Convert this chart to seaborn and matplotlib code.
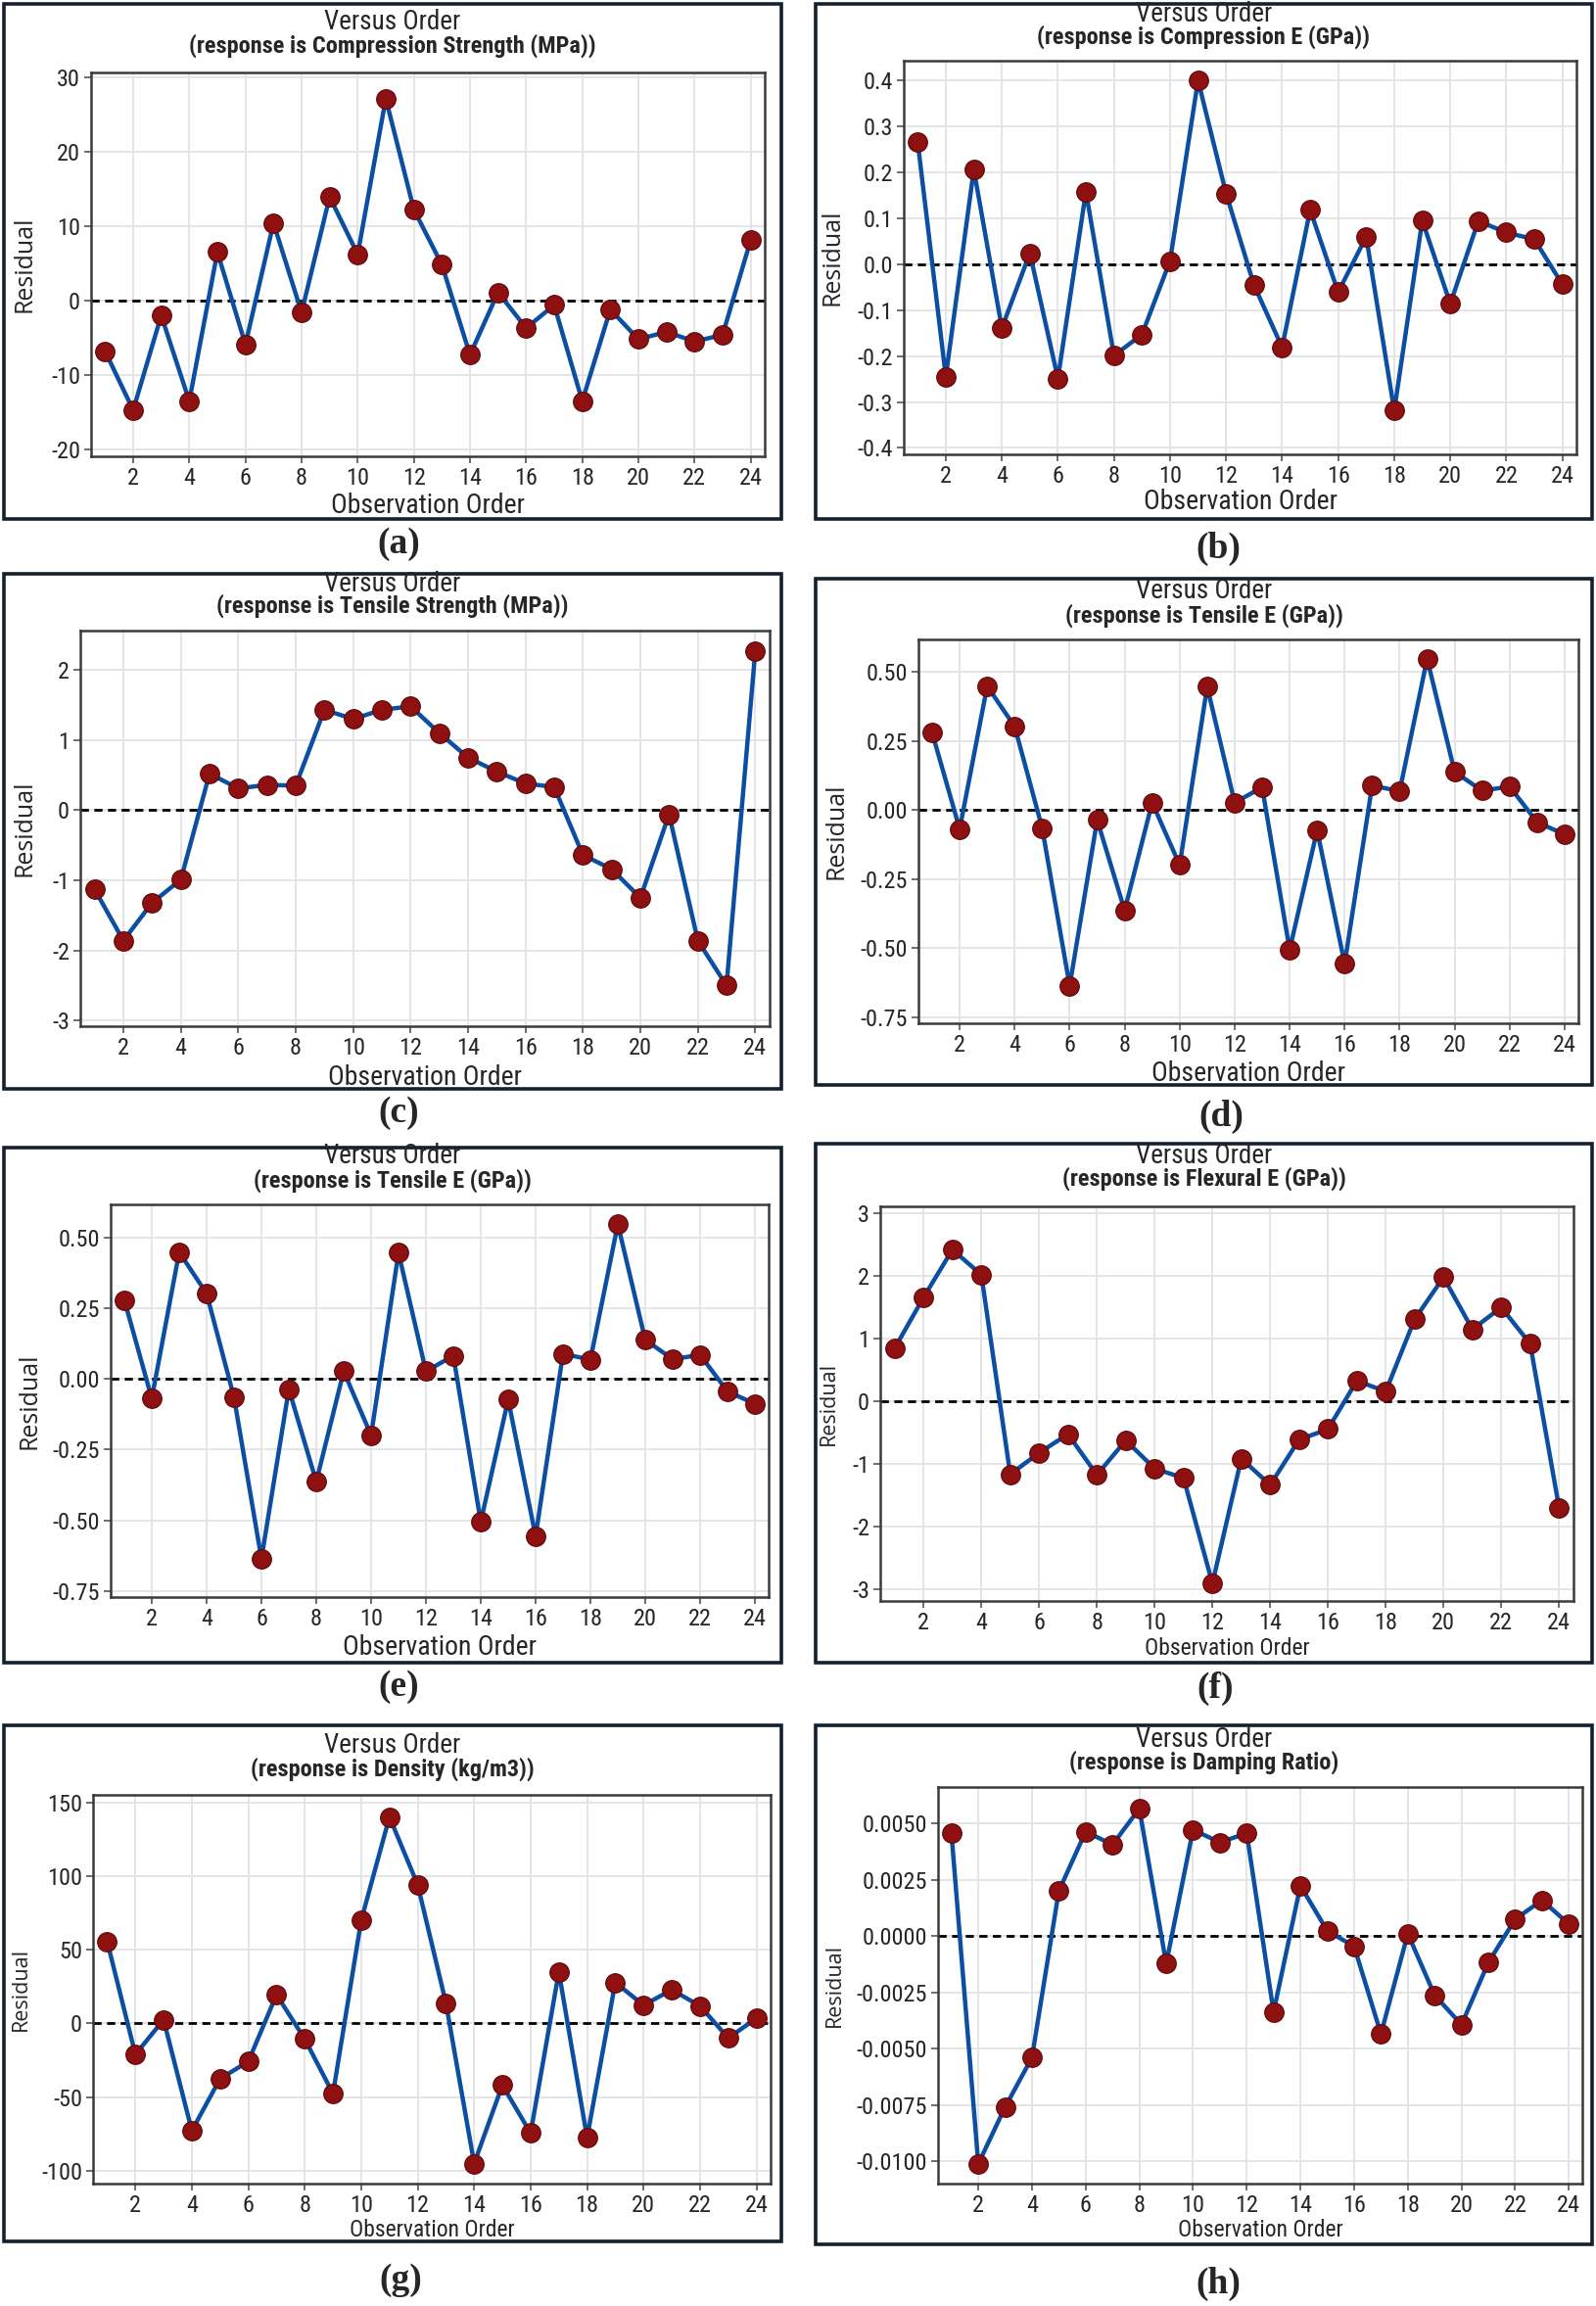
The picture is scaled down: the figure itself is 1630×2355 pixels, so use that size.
import numpy as np
import pandas as pd
import matplotlib
matplotlib.use("Agg")
import matplotlib.pyplot as plt
import seaborn as sns
from matplotlib.patches import Rectangle
from matplotlib.ticker import FormatStrFormatter

order = list(range(1, 25))

comp_strength = [-6.8, -14.7, -2.0, -13.5, 6.5, -5.9, 10.4, -1.6, 13.9, 6.2, 27.1, 12.2,
                 4.8, -7.3, 1.1, -3.7, -0.6, -13.5, -1.2, -5.2, -4.2, -5.5, -4.6, 8.1]
comp_e = [0.265, -0.245, 0.206, -0.139, 0.024, -0.249, 0.158, -0.199, -0.153, 0.007, 0.400, 0.154,
          -0.046, -0.181, 0.118, -0.061, 0.060, -0.319, 0.095, -0.086, 0.094, 0.069, 0.054, -0.044]
tens_strength = [-1.13, -1.86, -1.32, -0.99, 0.52, 0.31, 0.36, 0.35, 1.43, 1.30, 1.43, 1.48,
                 1.10, 0.75, 0.55, 0.38, 0.33, -0.64, -0.84, -1.25, -0.06, -1.86, -2.50, 2.26]
tens_e = [0.279, -0.069, 0.448, 0.302, -0.065, -0.636, -0.036, -0.363, 0.027, -0.199, 0.446, 0.027,
          0.082, -0.505, -0.073, -0.556, 0.089, 0.068, 0.547, 0.138, 0.070, 0.085, -0.044, -0.088]
flex_e = [0.85, 1.66, 2.42, 2.02, -1.16, -0.82, -0.52, -1.17, -0.62, -1.07, -1.22, -2.90,
          -0.91, -1.33, -0.61, -0.44, 0.33, 0.16, 1.31, 1.98, 1.15, 1.50, 0.92, -1.69]
density = [55.7, -21, 2.5, -72.7, -37.5, -25.8, 19.5, -10.6, -47.6, 70, 140, 94,
           13.9, -95, -41.8, -74.4, 35, -77.5, 27.8, 12.4, 22.8, 11.9, -9.9, 3.5]
damping = [0.00457, -0.01012, -0.0076, -0.0054, 0.0020, 0.00464, 0.00406, 0.00566, -0.00123,
           0.00472, 0.00416, 0.00457, -0.00338, 0.00224, 0.00023, -0.00046, -0.00435, 0.0001,
           -0.00263, -0.00394, -0.00118, 0.00075, 0.00159, 0.00053]

subtitles = ["(response is Compression Strength (MPa))",
             "(response is Compression E (GPa))",
             "(response is Tensile Strength (MPa))",
             "(response is Tensile E (GPa))",
             "(response is Tensile E (GPa))",
             "(response is Flexural E (GPa))",
             "(response is Density (kg/m3))",
             "(response is Damping Ratio)"]
letters = ["(a)", "(b)", "(c)", "(d)", "(e)", "(f)", "(g)", "(h)"]
series = [comp_strength, comp_e, tens_strength, tens_e, tens_e, flex_e, density, damping]
yticks = [[-20, -10, 0, 10, 20, 30],
          [-0.4, -0.3, -0.2, -0.1, 0.0, 0.1, 0.2, 0.3, 0.4],
          [-3, -2, -1, 0, 1, 2],
          [-0.75, -0.5, -0.25, 0.0, 0.25, 0.5],
          [-0.75, -0.5, -0.25, 0.0, 0.25, 0.5],
          [-3, -2, -1, 0, 1, 2, 3],
          [-100, -50, 0, 50, 100, 150],
          [-0.01, -0.0075, -0.005, -0.0025, 0.0, 0.0025, 0.005]]
yfmt = ["%d", "%.1f", "%d", "%.2f", "%.2f", "%d", "%d", "%.4f"]
ylims = [(-20.9, 30.6), (-0.414, 0.443), (-3.08, 2.56), (-0.771, 0.617),
         (-0.771, 0.617), (-3.18, 3.11), (-108.6, 155), (-0.0110, 0.00662)]

# layout in pixels (y from top): box, axes, title y, subtitle y, xlabel y, ylabel x, letter (x, y)
W, H = 1631, 2355
layout = [
    dict(box=(4, 4, 798, 530), ax=(93, 74, 781, 466), t=23, st=47, xl=517, yl=25, lab=(407, 556), big=True),
    dict(box=(833, 4, 1626, 530), ax=(923, 62, 1610, 464), t=14, st=38, xl=513, yl=850, lab=(1244, 560), big=True),
    dict(box=(4, 586, 798, 1112), ax=(82, 644, 786, 1048), t=597, st=619, xl=1101, yl=25, lab=(407, 1136), big=True),
    dict(box=(833, 591, 1626, 1108), ax=(938, 653, 1612, 1045), t=604, st=629, xl=1096, yl=854, lab=(1247, 1140), big=True),
    dict(box=(4, 1172, 798, 1698), ax=(113, 1230, 785, 1631), t=1181, st=1206, xl=1683, yl=30, lab=(407, 1722), big=True),
    dict(box=(833, 1168, 1626, 1698), ax=(899, 1232, 1607, 1635), t=1181, st=1204, xl=1683, yl=846, lab=(1241, 1724), big=False),
    dict(box=(4, 1762, 798, 2289), ax=(95, 1833, 787, 2230), t=1783, st=1807, xl=2277, yl=21, lab=(409, 2328), big=False),
    dict(box=(833, 1762, 1626, 2292), ax=(958, 1825, 1616, 2230), t=1776, st=1800, xl=2278, yl=852, lab=(1244, 2332), big=False),
]

sns.set_style("white")
plt.rcParams["axes.unicode_minus"] = False
narrow = ["Roboto Condensed", "Liberation Sans Narrow", "Roboto", "DejaVu Sans"]
plt.rcParams["font.family"] = narrow

line_blue = "#0b4ea2"
dot_red = "#8e1010"

fig = plt.figure(figsize=(W / 100, H / 100), dpi=100)

for i in range(8):
    lay = layout[i]
    L, T, R, B = lay["ax"]
    ax = fig.add_axes([L / W, 1 - B / H, (R - L) / W, (B - T) / H])
    df = pd.DataFrame({"order": order, "resid": series[i]})

    ax.axhline(0, color="black", lw=2, ls=(0, (3, 2)), zorder=2)
    sns.lineplot(data=df, x="order", y="resid", ax=ax, color=line_blue, lw=3.2, zorder=3)
    sns.scatterplot(data=df, x="order", y="resid", ax=ax, color=dot_red, s=200,
                    edgecolor="#5a0808", linewidth=0.8, zorder=4)

    ax.set_xlim(0.5, 24.5)
    ax.set_ylim(*ylims[i])
    ax.set_xticks(range(2, 25, 2))
    ax.set_yticks(yticks[i])
    ax.yaxis.set_major_formatter(FormatStrFormatter(yfmt[i]))
    ax.grid(True, color="#e3e3e3", lw=1.3)
    ax.set_axisbelow(True)
    ax.tick_params(axis="both", labelsize=17.5, length=5, width=1.2, color="#555555", pad=3,
                   direction="out", left=True, bottom=True)
    for sp in ax.spines.values():
        sp.set_color("#3a3a3a")
        sp.set_linewidth(1.8)
    ax.set_xlabel("")
    ax.set_ylabel("")

    # outer Minitab graph frame
    bx0, by0, bx1, by1 = lay["box"]
    fig.patches.append(Rectangle((bx0 / W, 1 - by1 / H), (bx1 - bx0) / W, (by1 - by0) / H,
                                 transform=fig.transFigure, fill=False, ec="#14202e", lw=2.6))

    cx = (bx0 + bx1) / 2
    fig.text(cx / W, 1 - lay["t"] / H, "Versus Order", ha="center", va="center", fontsize=19.5)
    fig.text(cx / W, 1 - lay["st"] / H, subtitles[i], ha="center", va="center",
             fontsize=17.5, fontweight="bold")
    xl_size = 20 if lay["big"] else 17
    fig.text(((L + R) / 2) / W, 1 - lay["xl"] / H, "Observation Order", ha="center", va="center",
             fontsize=xl_size)
    yl_size = 18 if lay["big"] else 15.5
    fig.text(lay["yl"] / W, 1 - ((T + B) / 2) / H, "Residual", rotation=90, ha="center",
             va="center", fontsize=yl_size, family=["Open Sans", "DejaVu Sans"])
    lx, ly = lay["lab"]
    fig.text(lx / W, 1 - ly / H, letters[i], ha="center", va="center", fontsize=27,
             fontweight="bold", family=["Liberation Serif", "DejaVu Serif"])

fig.savefig("out.png", dpi=100, facecolor="white")
